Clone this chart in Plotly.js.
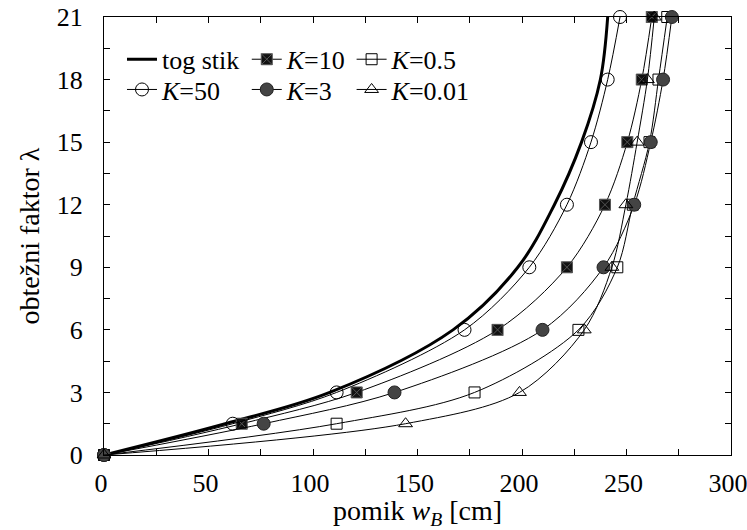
<!DOCTYPE html>
<html>
<head>
<meta charset="utf-8">
<script src="https://cdn.plot.ly/plotly-3.0.1.min.js"></script>
<style>html,body{margin:0;padding:0;background:#fff;}#chart{width:747px;height:530px;}</style>
</head>
<body>
<div id="chart"></div>
<script>
// load factor levels (y)
var lambda = [0, 1.5, 3, 6, 9, 12, 15, 18, 21];
// displacement w_B [cm] for each series
var togStik = [0, 58, 108, 167, 198, 215.5, 228.5, 237.5, 241];
var k50  = [0, 61.6, 111.3, 172.5, 203.5, 221.5, 233, 241, 246.9];
var k10  = [0, 65.9, 120.9, 188.3, 221.5, 239.7, 250.4, 257.3, 262.1];
var k3   = [0, 76.4, 139, 209.8, 239, 253.7, 261.6, 267.5, 271.7];
var k05  = [0, 111.3, 177.3, 227, 245.6, 253, 261, 265.3, 269.5];
var k001 = [0, 144.3, 198.8, 229.8, 243, 249.7, 255.1, 260, 263.3];
var seriesNames = ['tog stik', '<i>K</i>=10', '<i>K</i>=0.5', '<i>K</i>=50', '<i>K</i>=3', '<i>K</i>=0.01'];
var xTickVals = [0, 25, 50, 75, 100, 125, 150, 175, 200, 225, 250, 275, 300];
var xTickText = ['0', '', '50', '', '100', '', '150', '', '200', '', '250', '', '300'];
var yTickVals = [0, 1.5, 3, 4.5, 6, 7.5, 9, 10.5, 12, 13.5, 15, 16.5, 18, 19.5, 21];
var yTickText = ['0', '', '3', '', '6', '', '9', '', '12', '', '15', '', '18', '', '21'];

var FONT = 'Liberation Serif';
var FS_LEG = 26, FS_TICK = 26, FS_TITLE = 28;

function thin(x, name, marker, legend) {
  return {
    x: x, y: lambda, name: name, mode: 'lines+markers', type: 'scatter',
    line: {color: '#000', width: 1, shape: 'spline', smoothing: 0.9},
    marker: marker, cliponaxis: false, legend: legend
  };
}

var traces = [
  {x: togStik, y: lambda, name: seriesNames[0], mode: 'lines', type: 'scatter',
   line: {color: '#000', width: 3, shape: 'spline', smoothing: 1}, legend: 'legend'},
  thin(k10, seriesNames[1], {symbol: 'square-x', size: 11, color: '#111', line: {color: '#555', width: 1}}, 'legend2'),
  thin(k05, seriesNames[2], {symbol: 'square-open', size: 11, color: '#000', line: {width: 1}}, 'legend3'),
  thin(k50, seriesNames[3], {symbol: 'circle-open', size: 13, color: '#000', line: {width: 1}}, 'legend4'),
  thin(k3, seriesNames[4], {symbol: 'circle', size: 13, color: '#444', line: {color: '#222', width: 1}}, 'legend5'),
  thin(k001, seriesNames[5], {symbol: 'triangle-up-open', size: 12, color: '#000', line: {width: 1}}, 'legend6')
];

function leg(x, y) {
  return {
    orientation: 'v', xanchor: 'left', yanchor: 'top', x: x, y: y,
    font: {family: FONT, size: FS_LEG, color: '#000'}, bgcolor: 'rgba(0,0,0,0)',
    itemwidth: 30, tracegroupgap: 0
  };
}

var layout = {
  width: 747, height: 530,
  margin: {l: 104, r: 16, t: 17, b: 75},
  paper_bgcolor: '#fff', plot_bgcolor: '#fff',
  font: {family: FONT, size: FS_LEG, color: '#000'},
  showlegend: true,
  legend: leg(0.0287, 0.957),
  legend2: leg(0.2277, 0.957),
  legend3: leg(0.3949, 0.957),
  legend4: leg(0.0287, 0.888),
  legend5: leg(0.2277, 0.888),
  legend6: leg(0.3949, 0.888),
  xaxis: {
    range: [0, 300], tickvals: xTickVals, ticktext: xTickText, ticks: 'inside', ticklen: 6, tickcolor: '#000',
    showline: true, linecolor: '#000', linewidth: 1, mirror: 'ticks', showgrid: false, zeroline: false,
    tickfont: {family: FONT, size: FS_TICK, color: '#000'}, ticklabelstandoff: 5, ticklabeloverflow: 'allow',
    ticklabelshift: -3,
    title: {text: 'pomik <i>w</i><sub><i>B</i></sub> [cm]', font: {family: FONT, size: FS_TITLE, color: '#000'}, standoff: 9}
  },
  yaxis: {
    range: [0, 21], tickvals: yTickVals, ticktext: yTickText, ticks: 'inside', ticklen: 6, tickcolor: '#000',
    showline: true, linecolor: '#000', linewidth: 1, mirror: 'ticks', showgrid: false, zeroline: false,
    tickfont: {family: FONT, size: FS_TICK, color: '#000'}, ticklabelstandoff: 15,
    title: {text: 'obtežni faktor λ', font: {family: FONT, size: FS_TITLE, color: '#000'}, standoff: 8}
  }
};

Plotly.newPlot('chart', traces, layout, {staticPlot: true, displayModeBar: false});
</script>
</body>
</html>
